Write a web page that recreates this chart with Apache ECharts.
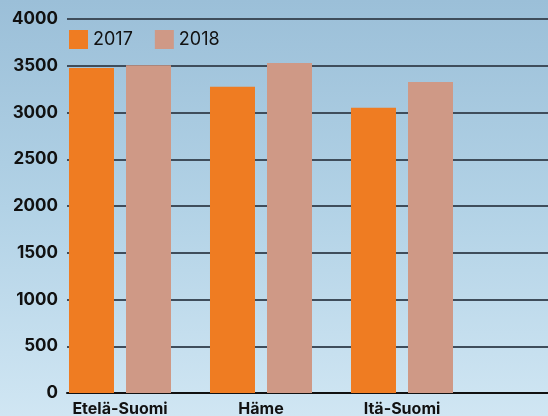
<!DOCTYPE html>
<html><head><meta charset="utf-8">
<script src="https://cdn.jsdelivr.net/npm/echarts@6/dist/echarts.min.js"></script>
<style>html,body{margin:0;padding:0;}#c{width:548px;height:416px;}</style>
</head><body><div id="c"></div>
<script>
const categories = ['Etelä-Suomi', 'Häme', 'Itä-Suomi', ''];
const seriesNames = ['2017', '2018'];
const values2017 = [3475, 3275, 3050, null];
const values2018 = [3505, 3530, 3325, null];
const yMin = 0, yMax = 4000, yStep = 500;

const chart = echarts.init(document.getElementById('c'));
const font = 'Inter, "DejaVu Sans", sans-serif';
chart.setOption({
  backgroundColor: new echarts.graphic.LinearGradient(0, 0, 0, 1, [
    {offset: 0, color: '#9bbfd8'},
    {offset: 0.5, color: '#b2d2e6'},
    {offset: 1, color: '#d0e6f3'}
  ]),
  animation: false,
  legend: {
    left: 69, top: 30, padding: 0, itemWidth: 19, itemHeight: 19, itemGap: 22,
    icon: 'rect',
    textStyle: {fontFamily: font, fontSize: 18, color: '#111'},
    data: seriesNames
  },
  grid: [
    {left: 67, right: 0, top: 19, bottom: 23, outerBoundsMode: 'none', containLabel: false},
    {left: 49.5, width: 564, top: 19, bottom: 23, outerBoundsMode: 'none', containLabel: false}
  ],
  xAxis: [
    {gridIndex: 0, type: 'category', data: [''], axisLine: {show: true, lineStyle: {color: '#111', width: 2}},
     axisTick: {show: false}, axisLabel: {show: false}},
    {gridIndex: 1, type: 'category', data: categories, axisLine: {show: false}, axisTick: {show: false},
     axisLabel: {fontFamily: font, fontWeight: 'bold', fontSize: 16, color: '#111', margin: 8}}
  ],
  yAxis: [
    {gridIndex: 0, type: 'value', min: yMin, max: yMax, interval: yStep,
     axisLine: {show: false}, axisTick: {show: false},
     axisLabel: {fontFamily: font, fontWeight: 'bold', fontSize: 17, color: '#111', margin: 9,
                 formatter: v => String(v)},
     splitLine: {lineStyle: {color: '#3f4d5b', width: 2}}},
    {gridIndex: 1, type: 'value', min: yMin, max: yMax, interval: yStep, show: false,
     splitLine: {show: false}}
  ],
  series: [
    {name: seriesNames[0], type: 'bar', xAxisIndex: 1, yAxisIndex: 1, data: values2017,
     barWidth: 45, barGap: '26.7%', itemStyle: {color: '#ef7c22'}},
    {name: seriesNames[1], type: 'bar', xAxisIndex: 1, yAxisIndex: 1, data: values2018,
     barWidth: 45, barGap: '26.7%', itemStyle: {color: '#cf9986'}}
  ]
});
</script>
</body></html>
